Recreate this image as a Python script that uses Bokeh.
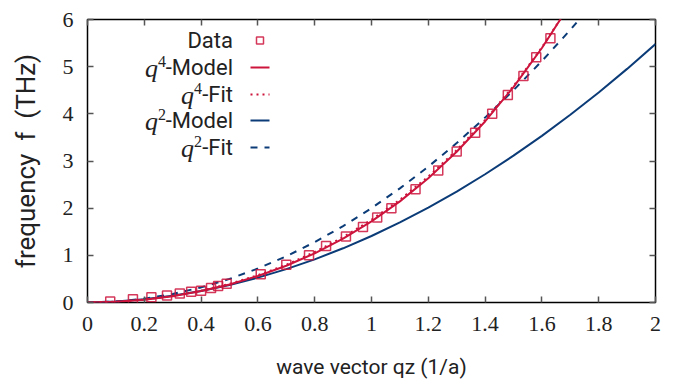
from bokeh.plotting import figure
from bokeh.models import Range1d, FixedTicker, LinearAxis, Label, Arrow, BoxAnnotation
from bokeh.embed import file_html
from bokeh.resources import INLINE

# ---- data ----
q_data = [0.08, 0.16, 0.225, 0.28, 0.325, 0.365, 0.40, 0.435, 0.46, 0.49,
          0.61, 0.70, 0.78, 0.84, 0.91, 0.97, 1.02, 1.07, 1.155, 1.235,
          1.30, 1.365, 1.425, 1.48, 1.535, 1.58, 1.63]
f_data = [0.02, 0.07, 0.11, 0.15, 0.19, 0.23, 0.25, 0.31, 0.35, 0.40,
          0.60, 0.80, 1.00, 1.20, 1.40, 1.60, 1.80, 2.00, 2.40, 2.80,
          3.20, 3.60, 4.00, 4.40, 4.80, 5.20, 5.60]

q_red = [0.0, 0.1, 0.2, 0.3, 0.4, 0.5, 0.6, 0.7, 0.8, 0.9, 1.0, 1.1, 1.2,
         1.3, 1.4, 1.5, 1.6, 1.7]
f_q4_model = [0.0, 0.015, 0.059, 0.134, 0.242, 0.383, 0.562, 0.780, 1.043,
              1.355, 1.720, 2.144, 2.634, 3.196, 3.838, 4.568, 5.395, 6.33]
f_q4_fit = [0.0, 0.016, 0.062, 0.138, 0.250, 0.395, 0.578, 0.800, 1.070,
            1.385, 1.755, 2.180, 2.670, 3.230, 3.870, 4.590, 5.410, 6.33]

q_blue = [0.0, 0.1, 0.2, 0.3, 0.4, 0.5, 0.6, 0.7, 0.8, 0.9, 1.0, 1.1, 1.2,
          1.3, 1.4, 1.5, 1.6, 1.7, 1.8, 1.9, 2.0]
f_q2_model = [0.0, 0.021, 0.069, 0.144, 0.245, 0.373, 0.527, 0.708, 0.915,
              1.149, 1.41, 1.697, 2.011, 2.352, 2.719, 3.113, 3.533, 3.98,
              4.453, 4.953, 5.48]
q_dash = [0.0, 0.1, 0.2, 0.3, 0.4, 0.5, 0.6, 0.7, 0.8, 0.9, 1.0, 1.1, 1.2,
          1.3, 1.4, 1.5, 1.6, 1.7, 1.8]
f_q2_fit = [0.0, 0.02, 0.08, 0.18, 0.32, 0.50, 0.72, 0.98, 1.28, 1.62, 2.0,
            2.42, 2.88, 3.38, 3.92, 4.50, 5.12, 5.78, 6.48]

x_ticks = [0, 0.2, 0.4, 0.6, 0.8, 1, 1.2, 1.4, 1.6, 1.8, 2]
x_tick_labels = ["0", "0.2", "0.4", "0.6", "0.8", "1", "1.2", "1.4", "1.6", "1.8", "2"]
y_ticks = [0, 1, 2, 3, 4, 5, 6]
y_tick_labels = ["0", "1", "2", "3", "4", "5", "6"]

legend_texts = ["Data", "-Model", "-Fit", "-Model", "-Fit"]
legend_var = ["", "q", "q", "q", "q"]
legend_power = ["", "4", "4", "2", "2"]

RED = "#cd143c"
BLUE = "#0c3c78"
TICK = "#555555"
SERIF = "Liberation Serif"
SANS = "Roboto"
NB = "\u00a0"

p = figure(width=686, height=391, output_backend="svg", toolbar_location=None,
           x_range=Range1d(0, 2), y_range=Range1d(0, 6),
           min_border_left=87, min_border_right=31, min_border_top=19,
           min_border_bottom=89,
           x_axis_label="wave vector qz (1/a)",
           y_axis_label="frequency" + NB + " f " + NB + "(THz)")
p.grid.visible = False
p.outline_line_color = "black"
p.outline_line_width = 1.5
p.background_fill_color = "white"
p.border_fill_color = "white"

xt = FixedTicker(ticks=x_ticks)
yt = FixedTicker(ticks=y_ticks)

for ax, tk, labs in ((p.xaxis[0], xt, x_tick_labels), (p.yaxis[0], yt, y_tick_labels)):
    ax.ticker = tk
    ax.major_label_overrides = {t: l for t, l in zip(tk.ticks, labs)}
    ax.axis_line_color = None
    ax.major_tick_in = 6
    ax.major_tick_out = 0
    ax.major_tick_line_color = TICK
    ax.major_tick_line_width = 1.5
    ax.minor_tick_line_color = None
    ax.major_label_text_font = SERIF
    ax.major_label_text_font_size = "22px"
    ax.major_label_text_color = "#222222"
    ax.major_label_standoff = 14
    ax.axis_label_text_font = SANS
    ax.axis_label_text_font_style = "normal"
    ax.axis_label_text_color = "#222222"
p.xaxis[0].axis_label_text_font_size = "21px"
p.yaxis[0].axis_label_text_font_size = "26px"
p.xaxis[0].axis_label_standoff = 21
p.yaxis[0].axis_label_standoff = 19

for tk, side in ((xt, "above"), (yt, "right")):
    ax = LinearAxis(ticker=tk, axis_line_color=None, major_tick_in=6, major_tick_out=0,
                    major_tick_line_color=TICK, major_tick_line_width=1.5,
                    minor_tick_line_color=None, major_label_text_color=None,
                    major_label_standoff=0)
    p.add_layout(ax, side)

# curves
p.line(q_blue, f_q2_model, line_color=BLUE, line_width=2)
p.line(q_dash, f_q2_fit, line_color=BLUE, line_width=2, line_dash="7 7")
p.line(q_red, f_q4_model, line_color=RED, line_width=2)
p.line(q_red, f_q4_fit, line_color=RED, line_width=2, line_dash="2 4")
p.scatter(q_data, f_data, marker="square", size=9, fill_color=None,
          line_color=RED, line_width=1.5, line_alpha=0.85)

# legend (gnuplot style: text right-aligned, sample on the right)
text_right = 145.5
entry_y = [262, 235, 208, 182, 155]
dash_w = {"-Model": 67, "-Fit": 31}
for i, txt in enumerate(legend_texts):
    y = entry_y[i]
    p.add_layout(Label(x=text_right, y=y, x_units="screen", y_units="screen", text=txt,
                       text_align="right", text_baseline="middle", text_font=SANS,
                       text_font_size="22px", text_color="#222222"))
    if legend_var[i]:
        xr = text_right - dash_w[txt]
        p.add_layout(Label(x=xr, y=y + 6, x_units="screen", y_units="screen",
                           text=legend_power[i], text_align="right",
                           text_baseline="middle", text_font=SERIF,
                           text_font_size="16px", text_color="#222222"))
        p.add_layout(Label(x=xr - 8, y=y - 1, x_units="screen", y_units="screen",
                           text=legend_var[i], text_align="right",
                           text_baseline="middle", text_font=SERIF,
                           text_font_style="italic", text_font_size="26px",
                           text_color="#222222"))

styles = [None, (RED, None), (RED, "2 4"), (BLUE, None), (BLUE, "7 7")]
for i, st in enumerate(styles):
    y = entry_y[i]
    if st is None:
        p.add_layout(BoxAnnotation(left=169, right=176, bottom=y - 3.5, top=y + 3.5,
                                   left_units="screen", right_units="screen",
                                   bottom_units="screen", top_units="screen",
                                   fill_color=None, line_color=RED, line_width=1.5,
                                   line_alpha=0.85))
    else:
        col, dash = st
        kw = dict(line_dash=dash) if dash else {}
        p.add_layout(Arrow(start=None, end=None, x_start=163, y_start=y, x_end=182,
                           y_end=y, start_units="screen", end_units="screen",
                           line_color=col, line_width=2, **kw))

open("out.html", "w").write(file_html(p, INLINE))
